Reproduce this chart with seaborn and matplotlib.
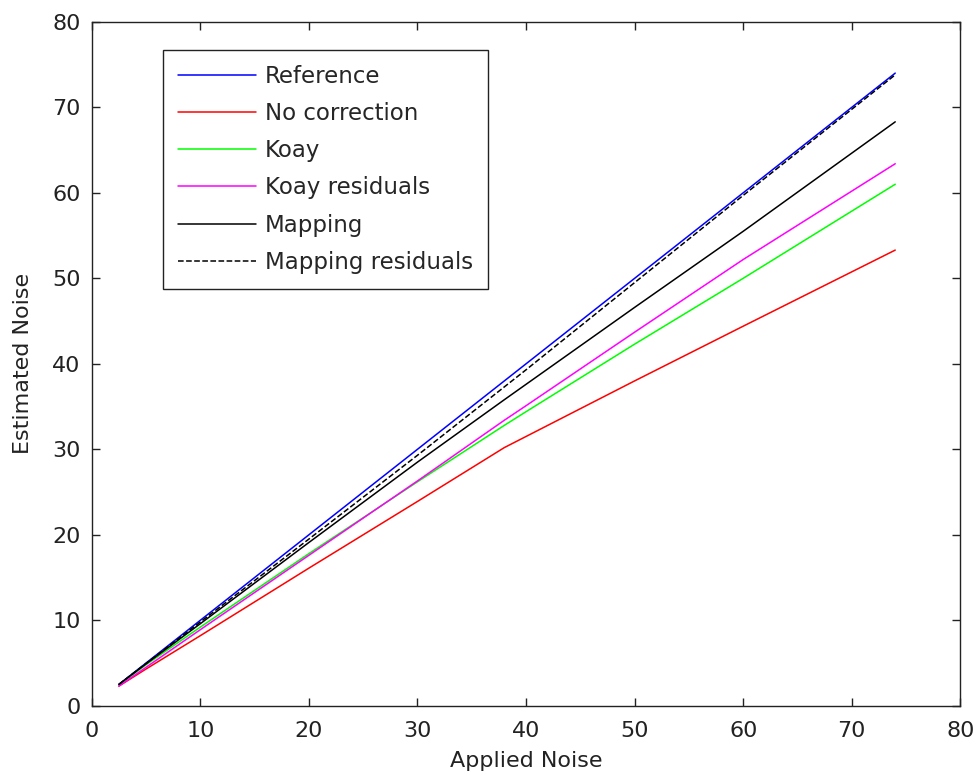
import numpy as np
import pandas as pd
import seaborn as sns
import matplotlib
matplotlib.use("Agg")
import matplotlib.pyplot as plt

sns.set_style("ticks")

# applied noise levels (x) and estimated noise for each method
applied = [2.5, 5, 10, 20, 30, 38, 40, 50, 60, 74]
reference = [2.5, 5, 10, 20, 30, 38, 40, 50, 60, 74]
no_correction = [2.3, 4.3, 8.2, 16.1, 23.9, 30.2, 31.5, 38.0, 44.4, 53.3]
koay = [2.4, 4.8, 9.2, 17.8, 26.2, 32.8, 34.4, 42.3, 50.0, 61.0]
koay_residuals = [2.3, 4.5, 8.9, 17.6, 26.3, 33.4, 35.1, 43.7, 52.2, 63.4]
mapping = [2.5, 4.9, 9.6, 19.1, 28.5, 35.8, 37.6, 46.6, 55.5, 68.3]
mapping_residuals = [2.5, 4.95, 9.8, 19.5, 29.3, 37.3, 39.3, 49.5, 59.7, 73.8]

series = {
    "Reference": reference,
    "No correction": no_correction,
    "Koay": koay,
    "Koay residuals": koay_residuals,
    "Mapping": mapping,
    "Mapping residuals": mapping_residuals,
}
colors = {
    "Reference": "#0000ff",
    "No correction": "#ff0000",
    "Koay": "#00ff00",
    "Koay residuals": "#ff00ff",
    "Mapping": "#000000",
    "Mapping residuals": "#000000",
}

df = pd.concat(
    [pd.DataFrame({"Applied Noise": applied, "Estimated Noise": v, "method": k})
     for k, v in series.items()]
)

fig = plt.figure(figsize=(9.76, 7.79), dpi=100)
ax = fig.add_axes([0.094, 0.094, 0.89, 0.878])

for name in series:
    sub = df[df["method"] == name]
    sns.lineplot(data=sub, x="Applied Noise", y="Estimated Noise", ax=ax,
                 color=colors[name], linewidth=1.1, label=name,
                 linestyle="--" if name == "Mapping residuals" else "-")

ax.set_xlim(0, 80)
ax.set_ylim(0, 80)
ax.set_xticks(range(0, 81, 10))
ax.set_yticks(range(0, 81, 10))
ax.tick_params(direction="in", length=6, width=1, labelsize=16,
               top=True, right=True, colors="#222222")
ax.tick_params(axis="x", pad=11)
ax.tick_params(axis="y", pad=8)
for s in ax.spines.values():
    s.set_linewidth(1)
    s.set_color("#222222")
ax.set_xlabel("Applied Noise", fontsize=16, labelpad=7, color="#222222")
ax.set_ylabel("Estimated Noise", fontsize=16, labelpad=14, color="#222222")

leg = ax.legend(loc="upper left", bbox_to_anchor=(0.0818, 0.959), fontsize=16.5,
                handlelength=3.4, labelspacing=0.62, handletextpad=0.4,
                borderpad=0.65, borderaxespad=0, fancybox=False, framealpha=1,
                edgecolor="#222222")
leg.get_frame().set_linewidth(1)

fig.savefig("out.png", dpi=100)
